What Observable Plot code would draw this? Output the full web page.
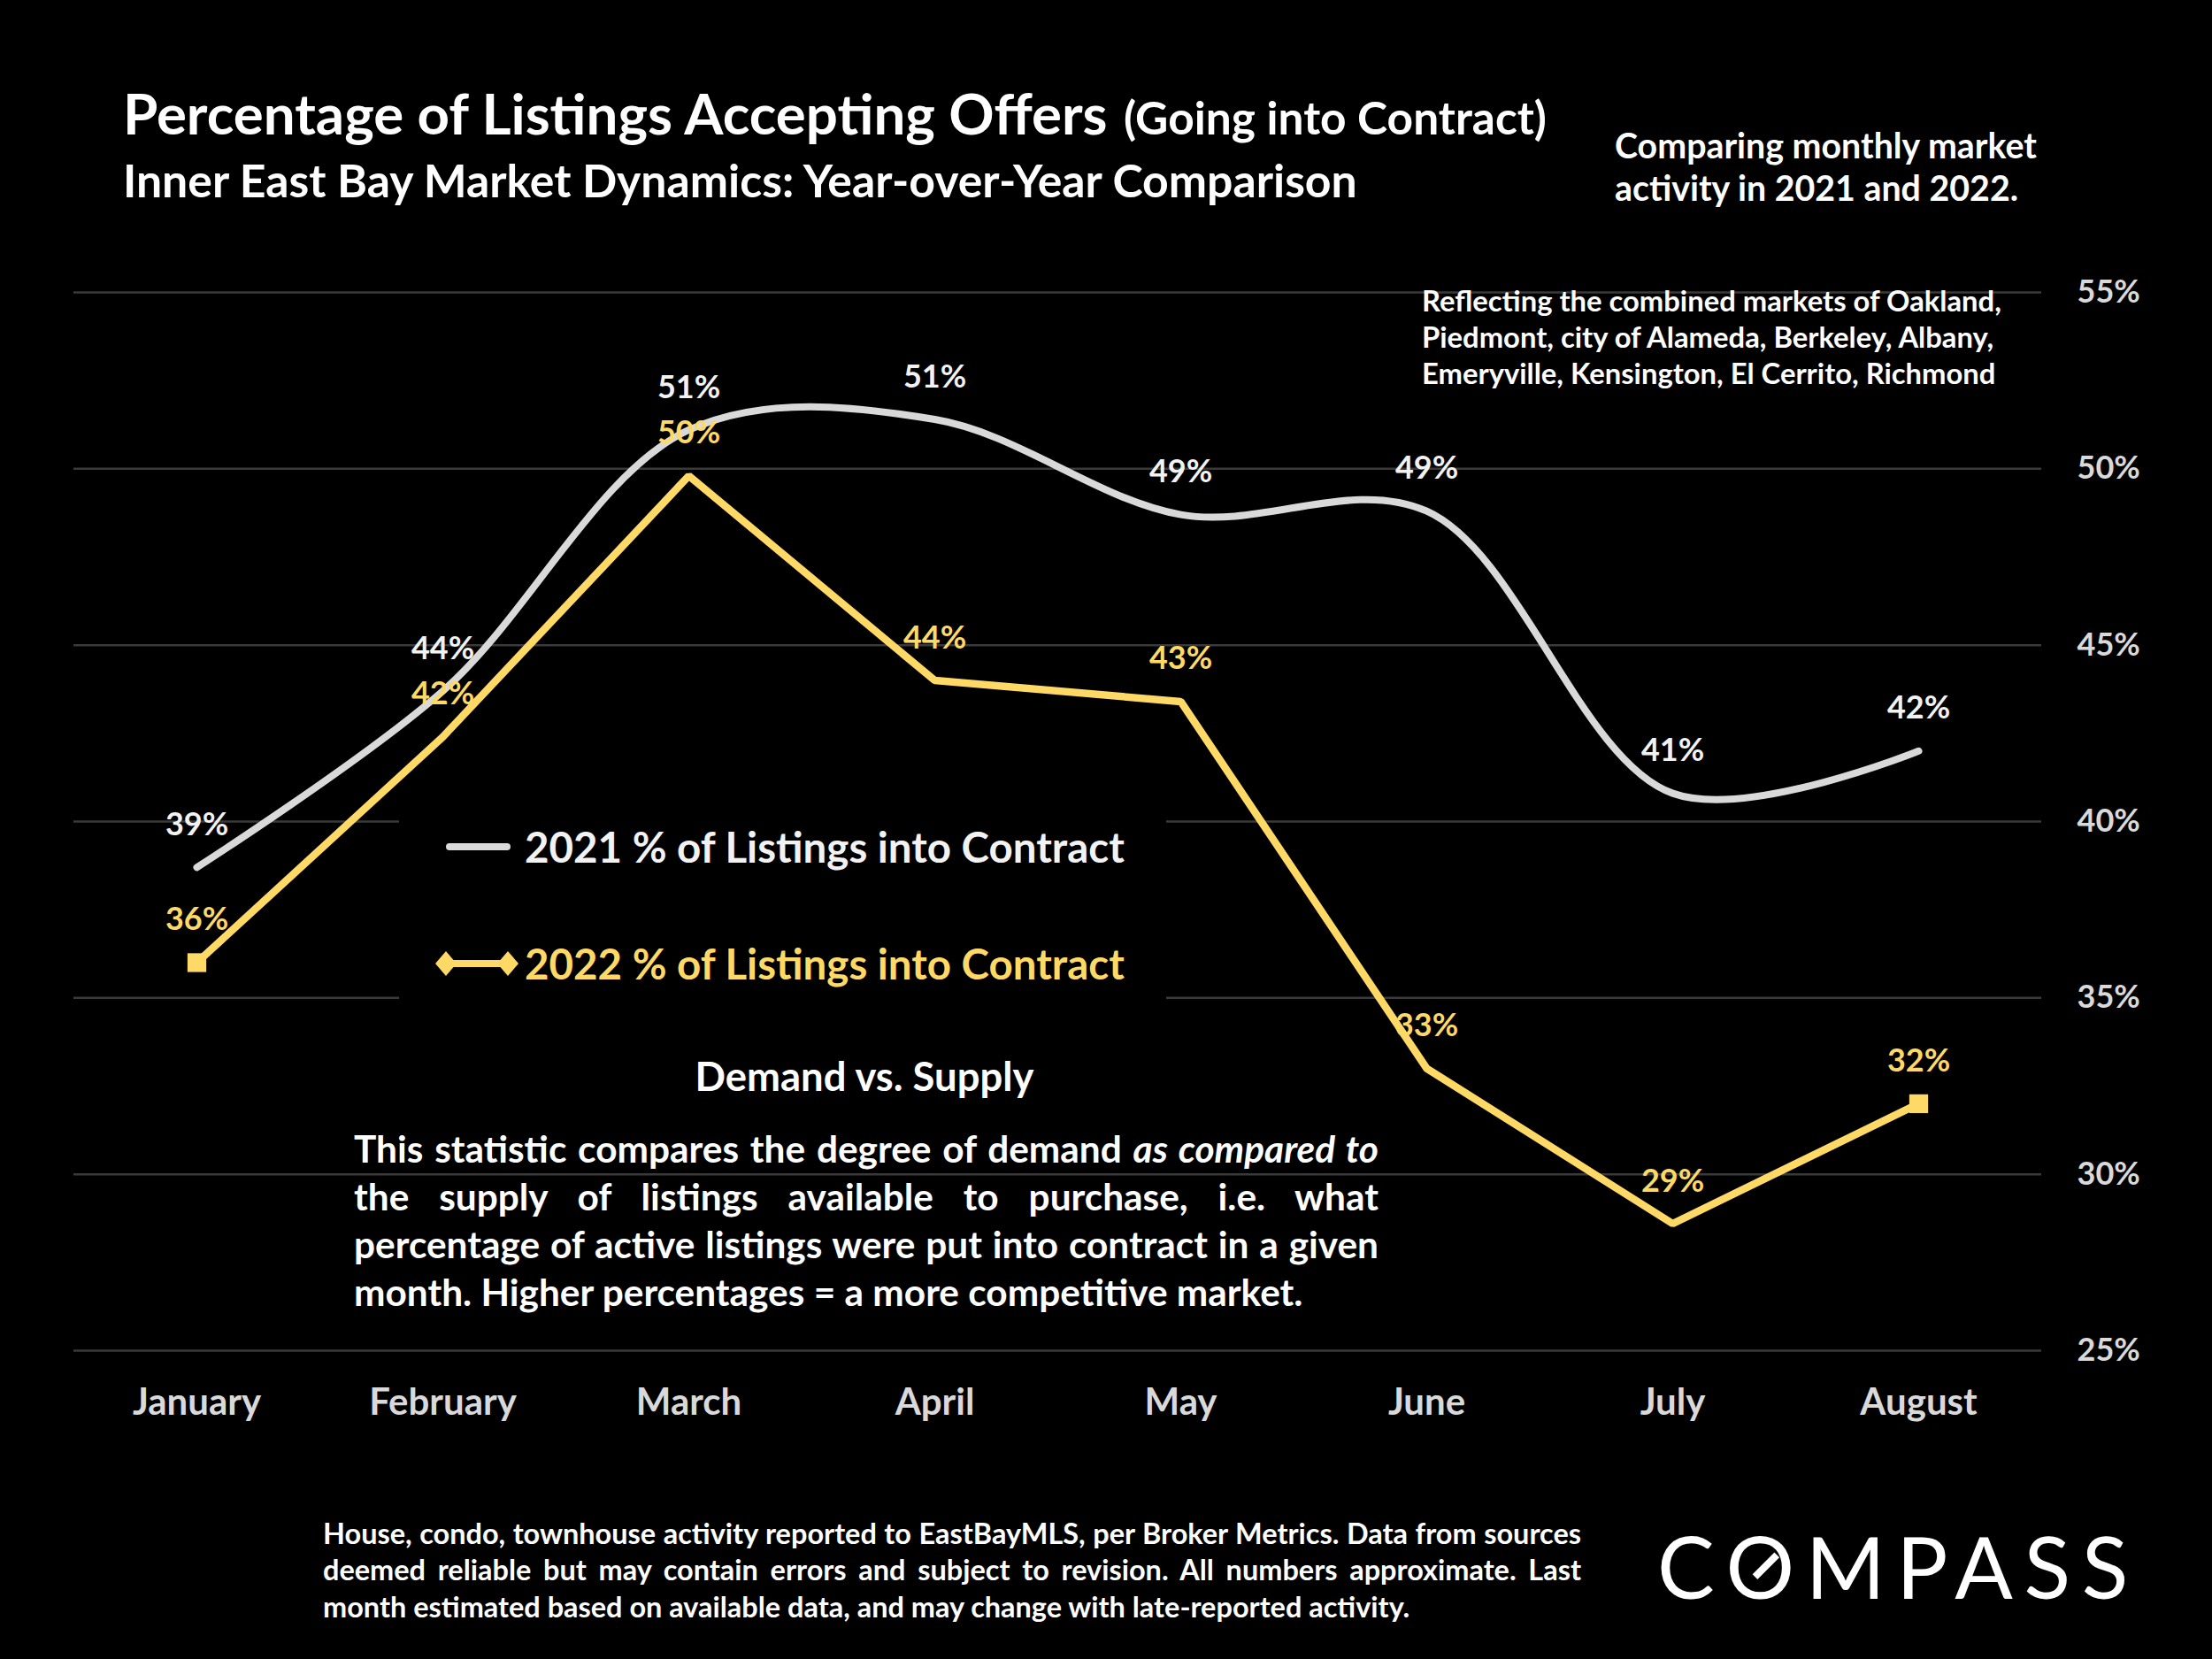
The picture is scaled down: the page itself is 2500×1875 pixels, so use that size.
<!DOCTYPE html>
<html><head><meta charset="utf-8">
<script src="https://cdn.jsdelivr.net/npm/d3@7"></script>
<script src="https://cdn.jsdelivr.net/npm/@observablehq/plot@0.6"></script>
<style>
html,body{margin:0;padding:0;background:#000;}
#wrap{position:relative;width:2500px;height:1875px;background:#000;overflow:hidden;font-family:Lato,"Open Sans",sans-serif;font-weight:700;}
#wrap > svg{position:absolute;left:0;top:0;}
.t{position:absolute;white-space:nowrap;line-height:1.2;}
.slash{position:relative;display:inline-block;}
.slash::after{content:"";position:absolute;left:50%;top:50%;width:0.085em;height:0.36em;background:#fff;transform:translate(-50%,-50%) rotate(45deg);}
</style></head>
<body><div id="wrap"></div>
<script>
// ---- data ----
const months = ["January","February","March","April","May","June","July","August"];
const pct2021 = [38.7, 43.7, 51.1, 51.4, 48.7, 48.8, 40.8, 42.0];
const pct2022 = [36.0, 42.4, 49.8, 44.0, 43.4, 33.0, 28.6, 32.0];
const yTicks = [25, 30, 35, 40, 45, 50, 55];
const seriesNames = ["2021 % of Listings into Contract", "2022 % of Listings into Contract"];
const seriesColors = ["#d9d9d9", "#ffd966"];
const labelColors = ["#f2f2f2", "#ffd966"];

const titleMain = "Percentage of Listings Accepting Offers";
const titleParen = "(Going into Contract)";
const subtitle = "Inner East Bay Market Dynamics: Year-over-Year Comparison";
const noteLines = ["Comparing monthly market", "activity in 2021 and 2022."];
const areaLines = ["Reflecting the combined markets of Oakland,", "Piedmont, city of Alameda, Berkeley, Albany,", "Emeryville, Kensington, El Cerrito, Richmond"];
const demandHeading = "Demand vs. Supply";
const demandLines = ["This statistic compares the degree of demand <em>as compared to</em>", "the supply of listings available to purchase, i.e. what", "percentage of active listings were put into contract in a given", "month. Higher percentages = a more competitive market."];
const footerLines = ["House, condo, townhouse activity reported to EastBayMLS, per Broker Metrics. Data from sources", "deemed reliable but may contain errors and subject to revision. All numbers approximate. Last", "month estimated based on available data, and may change with late-reported activity."];

// ---- chart ----
const wrap = document.getElementById("wrap");
const fmt = v => Math.round(v) + "%";
const rows2021 = months.map((m, i) => ({month: m, value: pct2021[i]}));
const rows2022 = months.map((m, i) => ({month: m, value: pct2022[i]}));
const ends2022 = [rows2022[0], rows2022[rows2022.length - 1]];

const chart = Plot.plot({
  width: 2500, height: 1875,
  marginLeft: 83, marginRight: 193, marginTop: 330, marginBottom: 349,
  style: {background: "#000", color: "#d9d9d9", fontFamily: "Lato, 'Open Sans', sans-serif", fontWeight: 700, overflow: "visible"},
  x: {type: "point", domain: months, padding: 0.5},
  y: {domain: [25, 55]},
  marks: [
    Plot.ruleY(yTicks, {stroke: "#3a3a3a", strokeWidth: 2.5}),
    Plot.axisX({tickSize: 0, tickPadding: 43, fontSize: 42, label: null}),
    Plot.axisY({anchor: "right", ticks: yTicks, tickFormat: d => d + "%", tickSize: 0, tickPadding: 40, fontSize: 36, label: null}),
    Plot.line(rows2021, {x: "month", y: "value", stroke: seriesColors[0], strokeWidth: 8, curve: "catmull-rom", strokeLinecap: "round"}),
    Plot.line(rows2022, {x: "month", y: "value", stroke: seriesColors[1], strokeWidth: 8.5, strokeLinejoin: "miter"}),
    Plot.dot(ends2022, {x: "month", y: "value", symbol: "square", r: 12, fill: seriesColors[1]}),
    Plot.text(rows2021, {x: "month", y: "value", text: d => fmt(d.value), dy: -48, fill: labelColors[0], fontSize: 36, fontWeight: 700}),
    Plot.text(rows2022, {x: "month", y: "value", text: d => fmt(d.value), dy: -48, fill: labelColors[1], fontSize: 36, fontWeight: 700})
  ]
});
wrap.appendChild(chart);

// ---- legend box ----
const box = document.createElement("div");
Object.assign(box.style, {position: "absolute", left: "451px", top: "893px", width: "867px", height: "252px", background: "#000"});
wrap.appendChild(box);

const ls = d3.create("svg").attr("width", 2500).attr("height", 1875)
  .style("position", "absolute").style("left", "0px").style("top", "0px");
ls.append("line").attr("x1", 508).attr("x2", 573).attr("y1", 957).attr("y2", 957)
  .attr("stroke", seriesColors[0]).attr("stroke-width", 8).attr("stroke-linecap", "round");
ls.append("line").attr("x1", 504).attr("x2", 574).attr("y1", 1089).attr("y2", 1089)
  .attr("stroke", seriesColors[1]).attr("stroke-width", 8);
for (const cx of [504, 574]) {
  ls.append("path").attr("d", `M${cx - 12},1089L${cx},1075L${cx + 12},1089L${cx},1103Z`).attr("fill", seriesColors[1]);
}
wrap.appendChild(ls.node());

// ---- text helpers ----
function addLine(html, x, cy, size, color, weight = 700) {
  const d = document.createElement("div");
  d.className = "t";
  d.innerHTML = html;
  Object.assign(d.style, {left: x + "px", top: cy + "px", fontSize: size + "px", color, fontWeight: weight, transform: "translateY(-50%)"});
  wrap.appendChild(d);
  return d;
}
function naturalWidth(d) { return d.getBoundingClientRect().width; }
function fit(d, target) {
  const fs = parseFloat(d.style.fontSize);
  d.style.fontSize = (fs * target / naturalWidth(d)) + "px";
}

// titles
fit(addLine(titleMain, 139, 128, 60, "#ffffff"), 1113);
fit(addLine(titleParen, 1270, 133, 44, "#ffffff"), 478);
fit(addLine(subtitle, 139, 203, 44, "#ffffff"), 1395);

// right notes
{
  const ds = noteLines.map((t, i) => addLine(t, 1825, [164, 212][i], 36, "#ffffff"));
  const w0 = naturalWidth(ds[0]); const s = 36 * 477 / w0;
  ds.forEach(d => d.style.fontSize = s + "px");
}
{
  const ds = areaLines.map((t, i) => addLine(t, 1607, [340, 381, 422][i], 30, "#ffffff"));
  const w0 = naturalWidth(ds[0]); const s = 30 * 655 / w0;
  ds.forEach(d => d.style.fontSize = s + "px");
}

// legend texts
fit(addLine(seriesNames[0], 593, 957, 48, labelColors[0]), 678);
fit(addLine(seriesNames[1], 593, 1089, 48, labelColors[1]), 678);

// demand heading (centered)
{
  const d = addLine(demandHeading, 977, 1216, 40, "#ffffff");
  fit(d, 383);
  d.style.transform = "translate(-50%,-50%)";
}

// justified paragraph blocks
function justifiedBlock(lines, x, cys, W, lastTarget, color) {
  const base = 40;
  const ds = lines.map((t, i) => addLine(t, x, cys[i], base, color));
  const ws = ds.map(naturalWidth);
  let s = Infinity;
  for (let i = 0; i < lines.length - 1; i++) s = Math.min(s, base * W * 0.995 / ws[i]);
  if (lastTarget) s = Math.min(s, base * lastTarget / ws[ws.length - 1]);
  ds.forEach((d, i) => {
    d.style.fontSize = s + "px";
    if (i < lines.length - 1) {
      d.style.whiteSpace = "normal";
      d.style.width = W + "px";
      d.style.textAlign = "justify";
      d.style.textAlignLast = "justify";
    }
  });
}
justifiedBlock(demandLines, 400, [1298, 1352, 1406, 1460], 1158, 1073, "#ffffff");
justifiedBlock(footerLines, 365, [1733, 1774, 1816], 1422, null, "#ffffff");

// logo
{
  const d = addLine('C<span class="slash">O</span>MPASS', 1873, 1770, 80, "#ffffff", 400);
  d.style.letterSpacing = "0.13em";
  fit(d, 545);
}
</script>
</body></html>
